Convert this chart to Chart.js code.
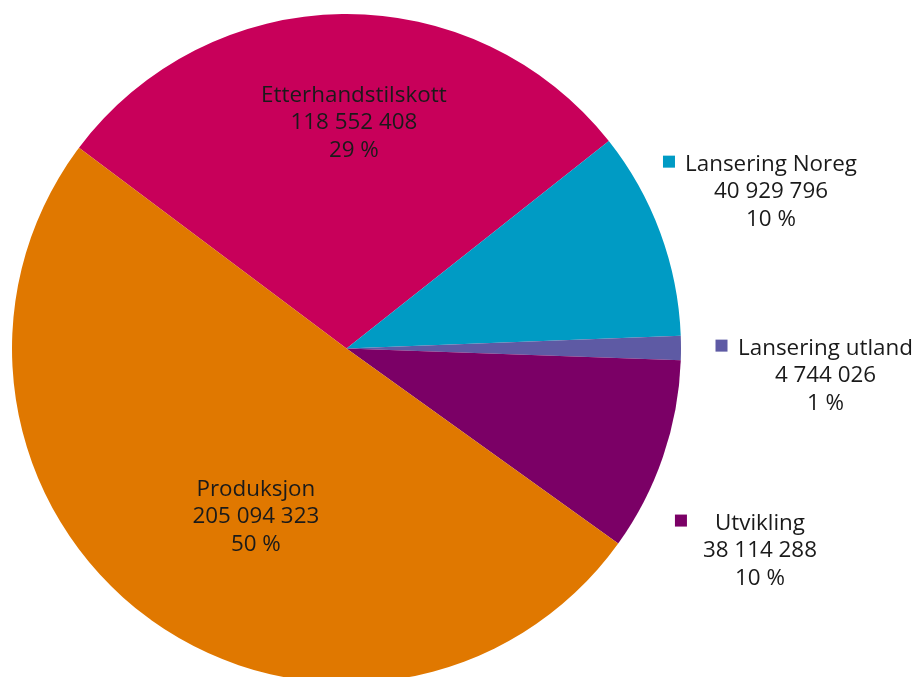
<!DOCTYPE html>
<html>
<head>
<meta charset="utf-8">
<script src="https://cdn.jsdelivr.net/npm/chart.js@4/dist/chart.umd.min.js"></script>
<style>
  html, body { margin: 0; padding: 0; background: #fff; overflow: hidden; }
  #wrap { position: relative; width: 916px; height: 700px; }
</style>
</head>
<body>
<div id="wrap"><canvas id="c" width="916" height="700"></canvas></div>
<script>
// ---- data ----
const categories = ["Etterhandstilskott", "Lansering Noreg", "Lansering utland", "Utvikling", "Produksjon"];
const amounts = [118552408, 40929796, 4744026, 38114288, 205094323];
const percentLabels = ["29 %", "10 %", "1 %", "10 %", "50 %"];
const amountLabels = ["118 552 408", "40 929 796", "4 744 026", "38 114 288", "205 094 323"];

// ---- styling ----
const colors = ["#C8005A", "#009BC4", "#5E5AA4", "#7B0066", "#E07800"];
const FONT = '22.4px "Open Sans", "Noto Sans", sans-serif';
const TEXT_COLOR = "#1a1a1a";
const LINE_H = 27.3;
const TEXT_DY = 2;
// label layout: anchor of the middle line, as fraction of radius from centre;
// marker: whether a colour square precedes the first line, offset relative to line centre
const labelLayout = [
  { fx: 0.022, fy: -0.680, marker: false },
  { fx: 1.269, fy: -0.474, marker: true, mdx: -108 },
  { fx: 1.432, fy: 0.076, marker: true, mdx: -110 },
  { fx: 1.236, fy: 0.599, marker: true, mdx: -85 },
  { fx: -0.271, fy: 0.498, marker: false }
];

const labelPlugin = {
  id: "sliceLabels",
  afterDatasetsDraw(chart) {
    const ctx = chart.ctx;
    const meta = chart.getDatasetMeta(0);
    const arc0 = meta.data[0];
    const cx = arc0.x, cy = arc0.y, R = arc0.outerRadius;
    ctx.save();
    ctx.font = FONT;
    ctx.textAlign = "center";
    ctx.textBaseline = "middle";
    categories.forEach((name, i) => {
      const L = labelLayout[i];
      const x = cx + L.fx * R;
      const y = cy + L.fy * R;
      const lines = [name, amountLabels[i], percentLabels[i]];
      lines.forEach((t, k) => {
        ctx.fillStyle = TEXT_COLOR;
        ctx.fillText(t, x, y + (k - 1) * LINE_H + TEXT_DY);
      });
      if (L.marker) {
        ctx.fillStyle = colors[i];
        ctx.fillRect(x + L.mdx, y - LINE_H - 7, 12, 12);
      }
    });
    ctx.restore();
  }
};

new Chart(document.getElementById("c"), {
  type: "pie",
  data: {
    labels: categories,
    datasets: [{
      data: amounts,
      backgroundColor: colors,
      borderWidth: 0,
      hoverOffset: 0
    }]
  },
  options: {
    responsive: false,
    animation: false,
    devicePixelRatio: 1,
    rotation: -53.1,
    layout: { padding: { left: 12, right: 235, top: 14, bottom: 17 } },
    plugins: {
      legend: { display: false },
      tooltip: { enabled: false }
    }
  },
  plugins: [labelPlugin]
});
</script>
</body>
</html>
